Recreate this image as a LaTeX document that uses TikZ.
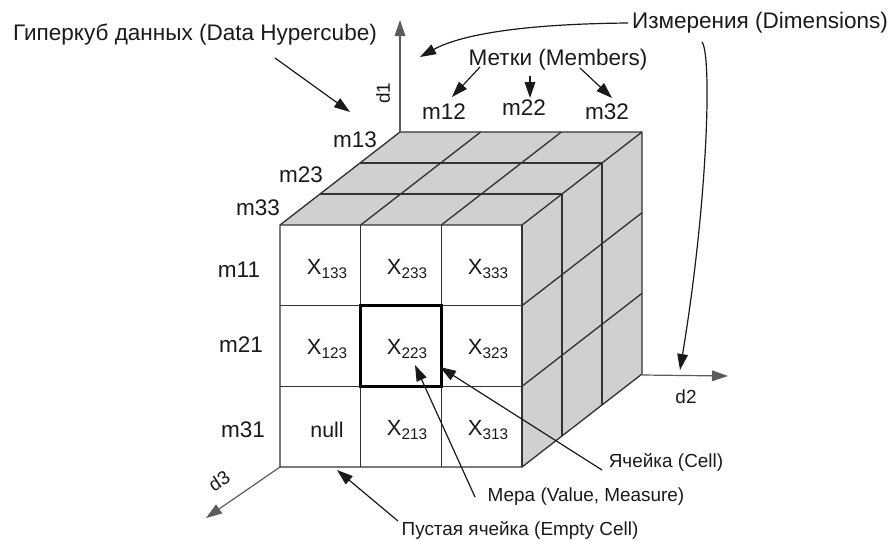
\documentclass[tikz,border=0pt]{standalone}
\usepackage{fontspec}
\setmainfont{Liberation Sans}
\usetikzlibrary{arrows.meta}
\definecolor{txt}{HTML}{1A1A1A}
\definecolor{edge}{HTML}{333333}
\definecolor{greyface}{HTML}{D0D0D0}
\newcommand{\bigf}{\fontsize{16.9}{19}\selectfont}
\newcommand{\smallf}{\fontsize{14.2}{17}\selectfont}
\newcommand{\subf}{\fontsize{11.5}{13}\selectfont}
\newcommand{\xcell}[1]{{\fontsize{16.5}{18}\selectfont X}\raisebox{-0.4ex}{\subf #1}}
\tikzset{
  lbl/.style={font=\bigf, text=txt, inner sep=0pt},
  sml/.style={font=\smallf, text=txt, inner sep=0pt},
  cellv/.style={font=\fontsize{16}{18}\selectfont, text=txt, inner sep=0pt},
  cube/.style={draw=edge, line width=1pt, line join=round},
  arr/.style={draw=txt, line width=0.9pt, -{Triangle[length=12pt,width=8pt]}},
  axis/.style={draw=edge!80!white, line width=0.9pt, -{Triangle[length=12pt,width=8pt]}}
}
\begin{document}
\begin{tikzpicture}[x=0.75pt,y=-0.75pt]
\useasboundingbox (0,0) rectangle (893,540);
% faces
\fill[greyface] (280,225) -- (522,225) -- (642,132) -- (400,132) -- cycle;
\fill[greyface] (522,225) -- (642,132) -- (642,374) -- (522,467) -- cycle;
\fill[white] (280,225) rectangle (522,467);
\foreach \k in {1,2} {
  \draw[cube] ({280+40*\k},{225-31*\k}) -- ({522+40*\k},{225-31*\k}) -- ({522+40*\k},{467-31*\k});
  \draw[cube] ({280+80.667*\k},225) -- ({400+80.667*\k},132);
  \draw[cube] (522,{225+80.667*\k}) -- (642,{132+80.667*\k});
  \draw[cube] ({280+80.667*\k},225) -- ({280+80.667*\k},467);
  \draw[cube] (280,{225+80.667*\k}) -- (522,{225+80.667*\k});
}
\draw[cube] (280,225) -- (400,132) -- (642,132) -- (642,374) -- (522,467) -- (280,467) -- cycle;
\draw[cube] (280,225) -- (522,225) -- (642,132);
\draw[cube] (522,225) -- (522,467);
\draw[line width=2.2pt, black] (360.67,305.67) rectangle (441.33,386.33);
% cell values
\node[cellv] (v133) at (327,269) {\xcell{133}};
\node[cellv] (v233) at (407,269) {\xcell{233}};
\node[cellv] (v333) at (488,269) {\xcell{333}};
\node[cellv] (v123) at (327,349) {\xcell{123}};
\node[cellv] (v223) at (407,349) {\xcell{223}};
\node[cellv] (v323) at (488,349) {\xcell{323}};
\node[cellv] (vnull) at (327,430) {null};
\node[cellv] (v213) at (407,430) {\xcell{213}};
\node[cellv] (v313) at (488,430) {\xcell{313}};
% member labels
\node[lbl] (m11) at (239,270) {m11};
\node[lbl] (m21) at (241,345) {m21};
\node[lbl] (m31) at (243,430) {m31};
\node[lbl] (m13) at (355,140) {m13};
\node[lbl] (m23) at (301,175) {m23};
\node[lbl] (m33) at (258,208) {m33};
\node[lbl] (m12) at (444,112) {m12};
\node[lbl] (m22) at (524,108) {m22};
\node[lbl] (m32) at (607,112) {m32};
% big labels
\node[lbl] (hyper) at (195,35) {Гиперкуб данных (Data Hypercube)};
\node[lbl] (dims) at (760,23) {Измерения (Dimensions)};
\node[lbl] (memb) at (558,60) {Метки (Members)};
% small labels
\node[sml] (cell) at (666,462) {Ячейка (Cell)};
\node[sml] (mera) at (586,497) {Мера (Value, Measure)};
\node[sml] (empty) at (520,530) {Пустая ячейка (Empty Cell)};
% axes
\coordinate (o1) at (400,132);
\coordinate (t1) at (400,20);
\coordinate (o2) at (642,375);
\coordinate (t2) at (728,376);
\coordinate (o3) at (280,467);
\coordinate (t3) at (206,518);
\draw[axis] (o1) -- (t1);
\draw[axis] (o2) -- (t2);
\draw[axis] (o3) -- (t3);
\node[sml, rotate=90] (d1) at (383,93) {d1};
\node[sml] (d2) at (686,397) {d2};
\node[sml, rotate=34] (d3) at (219,481) {d3};
% annotation arrows
\coordinate (h0) at (275,58);
\coordinate (h1) at (350,112);
\draw[arr] (h0) -- (h1);
\coordinate (dA) at (628,23);
\coordinate (dAt) at (420,57);
\draw[arr] (dA) .. controls (520,24) and (460,35) .. (dAt);
\coordinate (dB) at (702,42);
\coordinate (dBt) at (680,370);
\draw[arr] (dB) .. controls (712,55) and (708,200) .. (dBt);
\coordinate (k1) at (480,67);
\coordinate (k1t) at (452,97);
\coordinate (k2) at (530,76);
\coordinate (k2t) at (530,98);
\coordinate (k3) at (580,68);
\coordinate (k3t) at (612,98);
\draw[arr] (k1) -- (k1t);
\draw[arr] (k2) -- (k2t);
\draw[arr] (k3) -- (k3t);
\coordinate (c0) at (602,470);
\coordinate (c1) at (440,367);
\draw[arr] (c0) -- (c1);
\coordinate (e0) at (475,497);
\coordinate (e1) at (415,365);
\draw[arr] (e0) -- (e1);
\coordinate (n0) at (398,521);
\coordinate (n1) at (337,470);
\draw[arr] (n0) -- (n1);
\end{tikzpicture}
\end{document}
